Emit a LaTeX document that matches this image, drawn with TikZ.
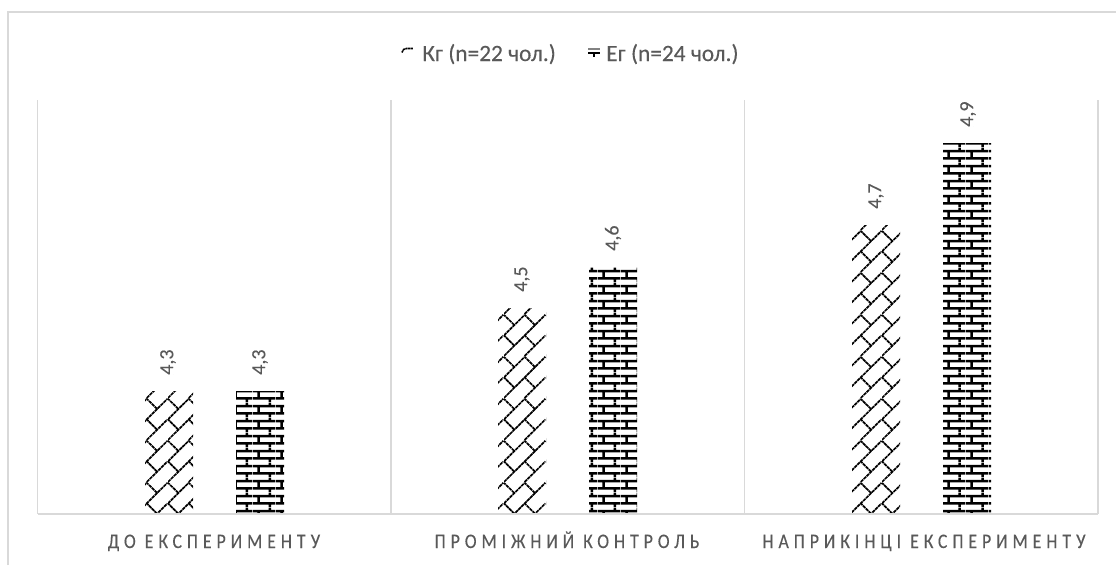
\documentclass[tikz,border=0pt]{standalone}
\usepackage{fontspec}
\setmainfont{Carlito}[FakeBold=0.2]
\usetikzlibrary{patterns}
\definecolor{TxtGray}{HTML}{595959}
\definecolor{GridGray}{HTML}{D9D9D9}
% diagonal brick (group Kg)
\pgfdeclarepatternformonly{kgbrick}{\pgfqpoint{0pt}{0pt}}{\pgfqpoint{31.5pt}{31.5pt}}{\pgfqpoint{31.5pt}{31.5pt}}{
    \pgfsetlinewidth{1.3pt}
    \pgfsetdash{{2.6pt}{0.5pt}}{0pt}
    \pgfpathmoveto{\pgfqpoint{0pt}{0pt}}\pgfpathlineto{\pgfqpoint{31.5pt}{31.5pt}}
    \pgfpathmoveto{\pgfqpoint{0pt}{15.75pt}}\pgfpathlineto{\pgfqpoint{15.75pt}{31.5pt}}
    \pgfpathmoveto{\pgfqpoint{15.75pt}{0pt}}\pgfpathlineto{\pgfqpoint{31.5pt}{15.75pt}}
    \pgfpathmoveto{\pgfqpoint{7.875pt}{7.875pt}}\pgfpathlineto{\pgfqpoint{0pt}{15.75pt}}
    \pgfpathmoveto{\pgfqpoint{23.625pt}{23.625pt}}\pgfpathlineto{\pgfqpoint{15.75pt}{31.5pt}}
    \pgfpathmoveto{\pgfqpoint{23.625pt}{7.875pt}}\pgfpathlineto{\pgfqpoint{15.75pt}{15.75pt}}
    \pgfpathmoveto{\pgfqpoint{7.875pt}{23.625pt}}\pgfpathlineto{\pgfqpoint{0pt}{31.5pt}}
    \pgfusepath{stroke}
}
% horizontal brick (group Eg)
\pgfdeclarepatternformonly{egbrick}{\pgfqpoint{0pt}{0pt}}{\pgfqpoint{17.25pt}{11pt}}{\pgfqpoint{17.25pt}{11pt}}{
    \pgfsetlinewidth{1.9pt}
    \pgfpathmoveto{\pgfqpoint{0pt}{2.75pt}}\pgfpathlineto{\pgfqpoint{17.25pt}{2.75pt}}
    \pgfpathmoveto{\pgfqpoint{0pt}{8.25pt}}\pgfpathlineto{\pgfqpoint{17.25pt}{8.25pt}}
    \pgfpathmoveto{\pgfqpoint{4.31pt}{2.75pt}}\pgfpathlineto{\pgfqpoint{4.31pt}{8.25pt}}
    \pgfpathmoveto{\pgfqpoint{12.94pt}{8.25pt}}\pgfpathlineto{\pgfqpoint{12.94pt}{11pt}}
    \pgfpathmoveto{\pgfqpoint{12.94pt}{0pt}}\pgfpathlineto{\pgfqpoint{12.94pt}{2.75pt}}
    \pgfusepath{stroke}
}
\tikzset{
    grid/.style = {draw=GridGray, line width=1pt},
    kgbar/.style = {pattern=kgbrick},
    egbar/.style = {pattern=egbrick},
    txt/.style = {text=TxtGray, font=\fontsize{17.5}{20}\selectfont, inner sep=0pt},
    vallab/.style = {txt, font=\fontsize{15}{18}\selectfont, rotate=90, anchor=west},
    catlab/.style = {txt, anchor=base, font=\fontsize{15.5}{18}\selectfont\addfontfeature{FakeStretch=0.86,LetterSpace=24}}
}

\begin{document}
\begin{tikzpicture}[x=0.75pt,y=-0.75pt]
    \useasboundingbox (0,0) rectangle (1116,565);
    % frame
    \draw[grid] (8,565) -- (8,12) -- (1116,12);
    % legend
    \draw[line width=1.2pt, dash pattern=on 1.6pt off 0.4pt] (402,52.5) .. controls (403.5,49) .. (406.5,48.5) -- (413,48.5);
    \node[txt,anchor=base west] (legkg) at (422,61) {Кг (n=22 чол.)};
    \draw[GridGray!60!black, line width=0.8pt] (588,49) -- (600,49);
    \draw[line width=1.9pt] (588,53) -- (600,53);
    \draw[line width=1.5pt] (594,53) -- (594,56.5);
    \node[txt,anchor=base west] (legeg) at (606,61) {Ег (n=24 чол.)};
    % grid
    \draw[grid] (37.5,100) -- (37.5,514);
    \draw[grid] (391,100) -- (391,514);
    \draw[grid] (744.5,100) -- (744.5,514);
    \draw[grid] (1098,100) -- (1098,514);
    % bars
    \fill[kgbar] (145,514) rectangle (193,391);
    \fill[egbar] (236,514) rectangle (284,391);
    \fill[kgbar] (498,514) rectangle (546,308);
    \fill[egbar] (589,514) rectangle (637,267);
    \fill[kgbar] (852,514) rectangle (900,225);
    \fill[egbar] (943,514) rectangle (991,143);
    \draw[grid] (37.5,514) -- (1098,514);
    % values
    \node[vallab] (v11) at (168,375) {4,3};
    \node[vallab] (v12) at (260,375) {4,3};
    \node[vallab] (v21) at (522,292) {4,5};
    \node[vallab] (v22) at (613,251) {4,6};
    \node[vallab] (v31) at (876,209) {4,7};
    \node[vallab] (v32) at (968,127) {4,9};
    % categories
    \node[catlab] (cat1) at (214,548) {ДО ЕКСПЕРИМЕНТУ};
    \node[catlab] (cat2) at (567,548) {ПРОМІЖНИЙ КОНТРОЛЬ};
    \node[catlab] (cat3) at (924,548) {НАПРИКІНЦІ ЕКСПЕРИМЕНТУ};
\end{tikzpicture}
\end{document}
